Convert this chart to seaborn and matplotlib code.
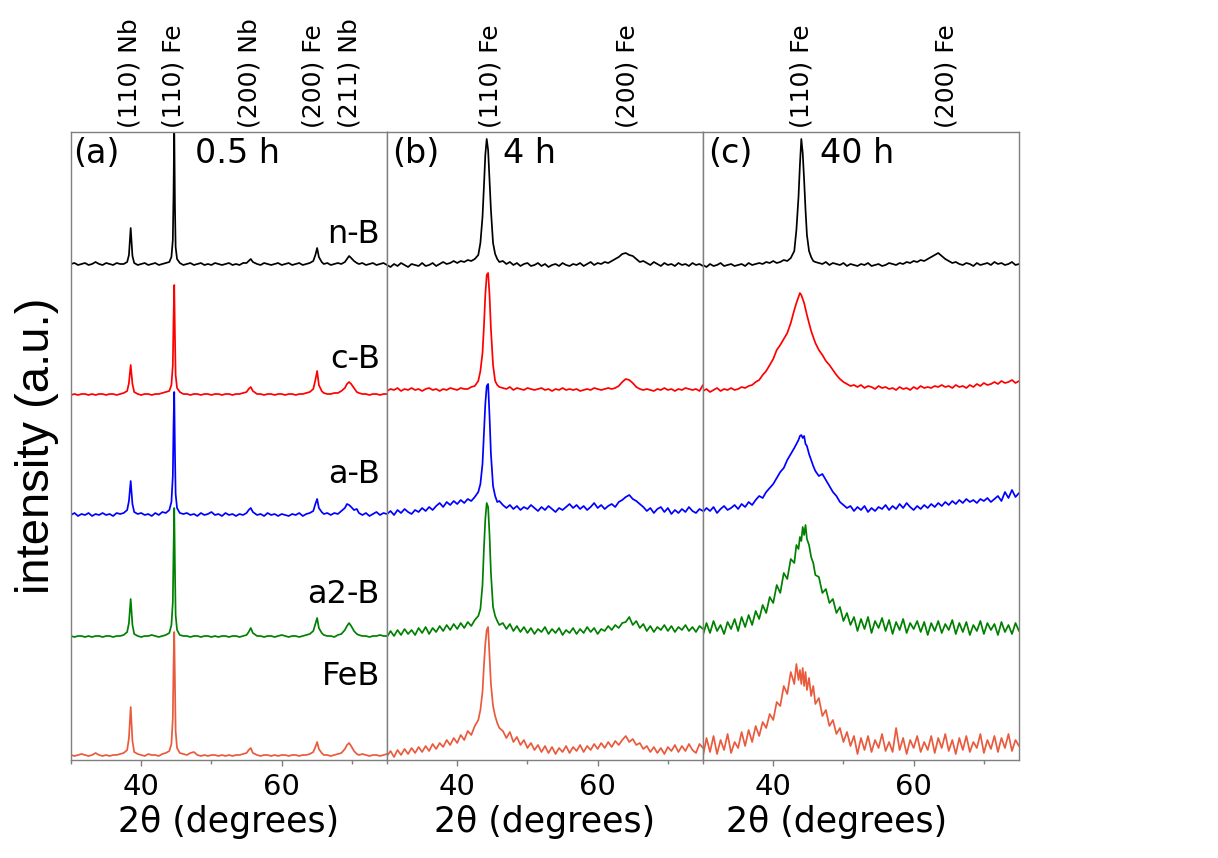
import matplotlib
matplotlib.use("Agg")
import matplotlib.pyplot as plt
import pandas as pd
import seaborn as sns

# ---------------------------------------------------------------- data
samples = ["n-B", "c-B", "a-B", "a2-B", "FeB"]
milling_times = ["0.5 h", "4 h", "40 h"]
panel_tags = ["(a)", "(b)", "(c)"]
# vertical stacking offset of each pattern (a.u.)
stack_offsets = [495, 365, 244, 123, 4]

# reflections marked above each panel (2θ, label)
refl_05h_pos = [38.3, 44.6, 55.4, 64.6, 69.7]
refl_05h_lab = ["(110) Nb", "(110) Fe", "(200) Nb", "(200) Fe", "(211) Nb"]
refl_4h_pos = [44.7, 64.2]
refl_4h_lab = ["(110) Fe", "(200) Fe"]
refl_40h_pos = [44.0, 64.7]
refl_40h_lab = ["(110) Fe", "(200) Fe"]

# 2θ sampling, 0.5 h patterns
tt_05h = [30, 30.5, 31, 31.5, 32, 32.5, 33, 33.5, 34, 34.5,
          35, 35.5, 36, 36.5, 37, 37.5, 38, 38.25, 38.5, 38.75,
          39, 39.5, 40, 40.5, 41, 41.5, 42, 42.5, 43, 43.5,
          44, 44.3, 44.5, 44.6, 44.7, 44.8, 44.9, 45.1, 45.5, 46,
          46.5, 47, 47.5, 48, 48.5, 49, 49.5, 50, 50.5, 51,
          51.5, 52, 52.5, 53, 53.5, 54, 54.5, 55, 55.3, 55.6,
          55.9, 56.5, 57, 57.5, 58, 58.5, 59, 59.5, 60, 60.5,
          61, 61.5, 62, 62.5, 63, 63.5, 64, 64.5, 64.8, 65.05,
          65.3, 65.7, 66, 66.5, 67, 67.5, 68, 68.5, 69, 69.3,
          69.6, 69.9, 70.3, 70.7, 71, 71.5, 72, 72.5, 73, 73.5,
          74, 74.5, 75]

i05_nB = [1, 2, 0, 1, 2, 0, 1, 3, 1, 0,
          2, 1, 0, 2, 1, 1, 3, 10, 37, 9,
          2, 0, 1, 2, 0, 1, 2, 0, 1, 2,
          3, 8, 25, 70, 140, 60, 18, 6, 2, 0,
          1, 2, 0, 1, 2, 0, 1, 0, 2, 1,
          0, 1, 2, 0, 1, 0, 2, 2, 4, 6,
          3, 1, 0, 2, 1, 0, 1, 2, 0, 1,
          2, 0, 1, 2, 0, 1, 2, 4, 10, 17,
          8, 3, 1, 2, 0, 1, 2, 1, 3, 6,
          9, 7, 4, 2, 1, 2, 0, 1, 2, 0,
          1, 2, 0]
i05_cB = [0, 1, 0, 1, 1, 0, 1, 0, 1, 1,
          0, 1, 1, 0, 1, 2, 4, 12, 30, 11,
          3, 1, 0, 1, 1, 0, 1, 1, 2, 3,
          4, 10, 30, 75, 110, 60, 20, 7, 3, 1,
          1, 0, 1, 1, 0, 1, 1, 0, 1, 1,
          0, 1, 1, 0, 1, 1, 2, 3, 6, 8,
          4, 1, 1, 0, 1, 1, 0, 1, 1, 0,
          1, 1, 0, 1, 1, 2, 3, 6, 15, 24,
          10, 4, 2, 1, 1, 2, 2, 4, 7, 11,
          13, 11, 7, 3, 2, 1, 1, 0, 1, 1,
          0, 1, 1]
i05_aB = [1, 3, 0, 2, 1, 3, 0, 2, 1, 3,
          1, 2, 0, 3, 2, 3, 6, 15, 35, 12,
          4, 2, 3, 1, 2, 0, 3, 1, 4, 3,
          6, 14, 40, 90, 124, 65, 22, 8, 3, 2,
          3, 1, 2, 0, 3, 1, 2, 4, 1, 2,
          0, 3, 1, 2, 0, 2, 1, 3, 6, 8,
          4, 1, 2, 0, 3, 1, 2, 0, 2, 1,
          0, 2, 1, 3, 0, 2, 3, 5, 12, 17,
          8, 4, 2, 3, 1, 3, 2, 5, 8, 12,
          11, 9, 6, 7, 3, 1, 3, 0, 2, 4,
          1, 3, 2]
i05_a2B = [1, 0, 1, 1, 0, 1, 0, 1, 1, 0,
           1, 1, 0, 1, 1, 2, 5, 14, 38, 12,
           3, 1, 0, 1, 1, 2, 1, 0, 1, 2,
           4, 12, 35, 85, 129, 70, 22, 7, 2, 1,
           1, 0, 1, 1, 0, 1, 1, 0, 1, 0,
           1, 1, 0, 1, 1, 0, 1, 2, 5, 9,
           4, 1, 1, 0, 1, 1, 0, 1, 2, 1,
           0, 1, 1, 0, 1, 2, 3, 6, 13, 19,
           9, 4, 2, 1, 1, 0, 2, 3, 7, 11,
           14, 11, 6, 3, 2, 1, 1, 0, 1, 1,
           2, 1, 1]
i05_FeB = [1, 0, 1, 2, 1, 0, 1, 3, 1, 0,
           1, 0, 1, 1, 2, 3, 6, 18, 49, 15,
           4, 2, 1, 0, 2, 1, 1, 0, 2, 3,
           5, 12, 38, 90, 124, 75, 25, 8, 3, 2,
           1, 3, 4, 1, 0, 1, 0, 1, 1, 0,
           1, 0, 1, 0, 1, 1, 2, 3, 6, 8,
           3, 1, 0, 1, 1, 0, 1, 0, 1, 1,
           0, 1, 1, 0, 1, 1, 2, 4, 9, 14,
           7, 3, 1, 1, 0, 1, 2, 3, 7, 11,
           13, 10, 5, 2, 1, 2, 1, 0, 1, 1,
           0, 1, 2]

# 2θ sampling, 4 h and 40 h patterns
tt_long = [30, 30.5, 31, 31.5, 32, 32.5, 33, 33.5, 34, 34.5,
           35, 35.5, 36, 36.5, 37, 37.5, 38, 38.5, 39, 39.5,
           40, 40.5, 41, 41.5, 42, 42.5, 43, 43.3, 43.6, 43.8,
           44.0, 44.2, 44.4, 44.6, 44.8, 45.1, 45.4, 45.7, 46, 46.5,
           47, 47.5, 48, 48.5, 49, 49.5, 50, 50.5, 51, 51.5,
           52, 52.5, 53, 53.5, 54, 54.5, 55, 55.5, 56, 56.5,
           57, 57.5, 58, 58.5, 59, 59.5, 60, 60.5, 61, 61.5,
           62, 62.5, 63, 63.5, 64, 64.5, 65, 65.5, 66, 66.5,
           67, 67.5, 68, 68.5, 69, 69.5, 70, 70.5, 71, 71.5,
           72, 72.5, 73, 73.5, 74, 74.5, 75]

i4_nB = [0, -2, 1, -1, 2, 0, -2, 1, 0, -1,
         2, -1, 0, 2, -1, 1, 3, 1, 2, 4,
         2, 4, 3, 5, 4, 6, 10, 22, 48, 78,
         110, 126, 115, 85, 55, 22, 11, 6, 3, 4,
         1, 3, 0, 2, -1, 1, 2, -1, 0, 2,
         -1, 1, -2, 0, 1, -1, 2, 0, -1, 1,
         0, 2, -1, 1, 3, 0, 2, 1, 3, 2,
         4, 6, 8, 11, 12, 10, 9, 6, 3, 4,
         2, 0, 3, 1, -1, 2, 0, 1, -1, 2,
         0, 1, -1, 2, 0, 1, -1]
i4_cB = [4, 6, 5, 7, 4, 6, 5, 7, 5, 6,
         4, 6, 7, 5, 6, 4, 6, 5, 7, 6,
         5, 7, 6, 6, 8, 9, 14, 24, 42, 68,
         100, 120, 122, 100, 66, 30, 14, 10, 8, 7,
         6, 8, 5, 7, 6, 5, 7, 6, 5, 6,
         7, 5, 6, 4, 6, 5, 7, 5, 6, 5,
         6, 4, 5, 6, 5, 7, 6, 5, 6, 7,
         6, 7, 9, 13, 16, 15, 12, 8, 6, 5,
         6, 5, 4, 6, 5, 7, 5, 6, 4, 6,
         5, 7, 6, 5, 6, 4, 10]
i4_aB = [2, 5, 1, 6, 3, 7, 4, 2, 6, 4,
         8, 5, 9, 6, 10, 13, 9, 14, 11, 15,
         12, 16, 13, 17, 15, 19, 24, 32, 52, 82,
         112, 130, 132, 100, 62, 30, 20, 14, 15, 11,
         8, 11, 7, 10, 6, 9, 7, 11, 8, 5,
         9, 6, 10, 7, 4, 8, 6, 9, 12, 8,
         11, 7, 10, 6, 9, 13, 8, 11, 7, 10,
         12, 9, 14, 16, 19, 21, 17, 15, 12, 9,
         5, 8, 3, 7, 9, 4, 8, 2, 6, 3,
         7, 4, 9, 5, 3, 7, 5]
i4_a2B = [0, 6, 1, 7, 2, 8, 3, 7, 2, 9,
          4, 10, 3, 9, 5, 11, 6, 12, 7, 13,
          8, 14, 9, 15, 11, 17, 21, 28, 52, 88,
          118, 134, 130, 102, 64, 30, 21, 16, 12, 14,
          8, 13, 6, 11, 5, 10, 4, 9, 3, 8,
          5, 10, 3, 8, 4, 9, 2, 7, 4, 9,
          3, 8, 4, 10, 5, 9, 3, 8, 6, 11,
          7, 12, 9, 14, 15, 20, 12, 16, 9, 13,
          6, 11, 5, 10, 7, 12, 6, 11, 5, 10,
          7, 12, 6, 10, 5, 11, 8]
i4_FeB = [0, 5, -1, 6, 1, 7, 2, 8, 3, 9,
          4, 10, 5, 12, 7, 13, 9, 16, 11, 18,
          13, 21, 16, 25, 21, 30, 36, 46, 64, 90,
          112, 126, 129, 100, 72, 50, 40, 33, 28, 25,
          18, 24, 14, 19, 11, 16, 8, 13, 6, 11,
          4, 10, 3, 9, 2, 8, 4, 10, 3, 9,
          5, 11, 4, 10, 6, 12, 7, 13, 8, 14,
          9, 15, 11, 16, 20, 14, 17, 11, 13, 7,
          10, 4, 9, 3, 8, 2, 9, 5, 11, 4,
          10, 5, 12, 6, 3, 12, 8]

i40_nB = [0, -2, 1, -1, 0, 2, -1, 0, 1, -1,
          0, 1, -1, 2, 0, 1, 2, 1, 3, 2,
          4, 2, 3, 5, 4, 7, 14, 35, 68, 100,
          126, 112, 85, 55, 30, 14, 8, 4, 3, 2,
          1, 3, 0, 2, 1, 0, 2, -1, 1, 0,
          -1, 1, 0, 2, -1, 0, 1, -1, 0, 2,
          1, 0, 2, 1, 3, 2, 4, 3, 5, 4,
          6, 8, 10, 12, 9, 6, 4, 2, 3, 1,
          0, 2, 1, -1, 2, 0, 1, 2, 0, 3,
          1, 2, 0, 1, 3, 0, 1]
i40_cB = [4, 6, 3, 5, 7, 4, 6, 5, 7, 5,
          6, 8, 7, 9, 10, 13, 15, 20, 24, 30,
          36, 45, 50, 56, 62, 72, 85, 92, 98, 102,
          100, 96, 92, 86, 80, 72, 64, 58, 52, 45,
          40, 34, 30, 25, 20, 16, 13, 11, 9, 10,
          8, 10, 7, 9, 8, 6, 9, 7, 8, 6,
          7, 5, 8, 6, 7, 5, 8, 6, 9, 7,
          8, 7, 9, 8, 10, 8, 9, 7, 10, 8,
          9, 7, 10, 8, 11, 9, 12, 10, 11, 13,
          11, 14, 12, 13, 15, 12, 14]
i40_aB = [4, 8, 5, 9, 3, 7, 10, 6, 8, 11,
          7, 12, 9, 14, 11, 16, 20, 18, 24, 28,
          32, 38, 44, 48, 56, 62, 68, 72, 76, 80,
          81, 78, 80, 72, 70, 62, 56, 50, 45, 40,
          42, 36, 30, 24, 20, 14, 11, 8, 10, 5,
          9, 6, 10, 4, 8, 5, 9, 7, 11, 6,
          10, 7, 12, 8, 13, 9, 6, 10, 7, 11,
          8, 12, 9, 13, 10, 14, 11, 15, 12, 16,
          13, 17, 14, 16, 13, 17, 15, 18, 14, 17,
          20, 15, 24, 18, 26, 19, 23]
i40_a2B = [2, 14, 4, 16, 6, 12, 3, 15, 8, 18,
           6, 20, 10, 22, 12, 26, 18, 32, 24, 40,
           34, 52, 44, 64, 58, 78, 74, 92, 88, 100,
           96, 110, 102, 112, 98, 92, 80, 74, 62, 60,
           44, 48, 34, 38, 24, 30, 16, 24, 12, 20,
           6, 18, 8, 20, 4, 16, 9, 19, 6, 17,
           3, 15, 7, 18, 4, 14, 8, 16, 5, 15,
           2, 14, 6, 16, 4, 13, 7, 17, 3, 14,
           5, 15, 2, 12, 6, 16, 3, 14, 7, 13,
           2, 15, 5, 12, 3, 14, 6]
i40_FeB = [0, 18, 4, 20, 2, 16, 6, 22, 3, 14,
           8, 24, 10, 26, 14, 30, 20, 34, 28, 42,
           36, 54, 50, 70, 62, 84, 72, 92, 76, 86,
           72, 88, 70, 84, 66, 78, 60, 70, 52, 58,
           40, 46, 30, 36, 22, 28, 14, 24, 10, 20,
           2, 18, 6, 20, 4, 16, 8, 22, 5, 14,
           4, 28, 6, 18, 2, 16, 8, 20, 4, 14,
           6, 20, 3, 18, 8, 22, 5, 16, 2, 18,
           6, 20, 4, 14, 8, 22, 3, 16, 7, 20,
           4, 18, 8, 22, 5, 16, 10]

# --------------------------------------------------------- assemble
patterns = {
    "0.5 h": (tt_05h, [i05_nB, i05_cB, i05_aB, i05_a2B, i05_FeB]),
    "4 h": (tt_long, [i4_nB, i4_cB, i4_aB, i4_a2B, i4_FeB]),
    "40 h": (tt_long, [i40_nB, i40_cB, i40_aB, i40_a2B, i40_FeB]),
}
rows = []
for t in milling_times:
    grid, series = patterns[t]
    for s, off, vals in zip(samples, stack_offsets, series):
        if len(vals) != len(grid):
            raise ValueError(f"{t} {s}: {len(vals)} values for {len(grid)} angles")
        for x, v in zip(grid, vals):
            rows.append({"time": t, "sample": s, "two_theta": x,
                         "stacked": v + off})
df = pd.DataFrame(rows)

reflections = {
    "0.5 h": (refl_05h_pos, refl_05h_lab),
    "4 h": (refl_4h_pos, refl_4h_lab),
    "40 h": (refl_40h_pos, refl_40h_lab),
}

# ---------------------------------------------------------- styling
sns.set_theme(style="white")
plt.rcParams["font.family"] = ["DejaVu Sans"]
plt.rcParams["text.color"] = "black"
plt.rcParams["axes.labelcolor"] = "black"
plt.rcParams["xtick.labelcolor"] = "black"

palette = dict(zip(samples, ["#000000", "#FF0000", "#0000FF", "#008000", "#EA5A3D"]))
frame_col = "#7f7f7f"

W, H = 1218, 858
fig = plt.figure(figsize=(W / 100, H / 100), dpi=100)
fig.patch.set_facecolor("white")

ax_left, ax_bottom, ax_w, ax_h = 71, 98, 316, 628
tag_x = [30.3, 30.67, 30.8]
time_x = [47.7, 46.5, 46.7]
xlabel_x = [0.5, 0.5, 0.424]

for i, t in enumerate(milling_times):
    ax = fig.add_axes([(ax_left + i * ax_w) / W, ax_bottom / H, ax_w / W, ax_h / H])
    sub = df[df["time"] == t]
    sns.lineplot(data=sub, x="two_theta", y="stacked", hue="sample",
                 hue_order=samples, palette=palette, estimator=None,
                 sort=False, legend=False, linewidth=1.25, ax=ax)
    ax.set_xlim(30, 75)
    ax.set_ylim(0, ax_h)
    ax.set_yticks([])
    ax.set_ylabel("")
    ax.set_xticks([40, 60])
    ax.set_xticklabels(["40", "60"])
    ax.set_xticks([30, 50, 70], minor=True)
    ax.tick_params(axis="x", which="both", bottom=True, direction="out",
                   color=frame_col, width=1.0, labelcolor="black")
    ax.tick_params(axis="x", which="major", length=4.5, labelsize=21, pad=5)
    ax.tick_params(axis="x", which="minor", length=3.2)
    for sp in ax.spines.values():
        sp.set_color(frame_col)
        sp.set_linewidth(1.0)
    ax.set_xlabel("2θ (degrees)", fontsize=25, color="black")
    ax.xaxis.set_label_coords(xlabel_x[i], -0.072)

    # panel tag and milling time
    ax.text(tag_x[i], 597, panel_tags[i], fontsize=24, ha="left", va="baseline")
    ax.text(time_x[i], 597, t, fontsize=24, ha="left", va="baseline")

    # reflection labels above the frame
    pos, lab = reflections[t]
    for p, l in zip(pos, lab):
        ax.text(p, 1.006, l, rotation=90, fontsize=18, ha="center", va="bottom",
                transform=ax.get_xaxis_transform())

    if i == 0:
        name_y = [517, 392, 277, 157, 75]
        for s, yy in zip(samples, name_y):
            ax.text(74.0, yy, s, fontsize=23, ha="right", va="baseline")

fig.text(37.5 / W, 1 - 446 / H, "intensity (a.u.)", rotation=90, fontsize=34,
         family=["Liberation Sans", "DejaVu Sans"], ha="center", va="center",
         color="black")

fig.savefig("out.png", dpi=100, facecolor="white")
